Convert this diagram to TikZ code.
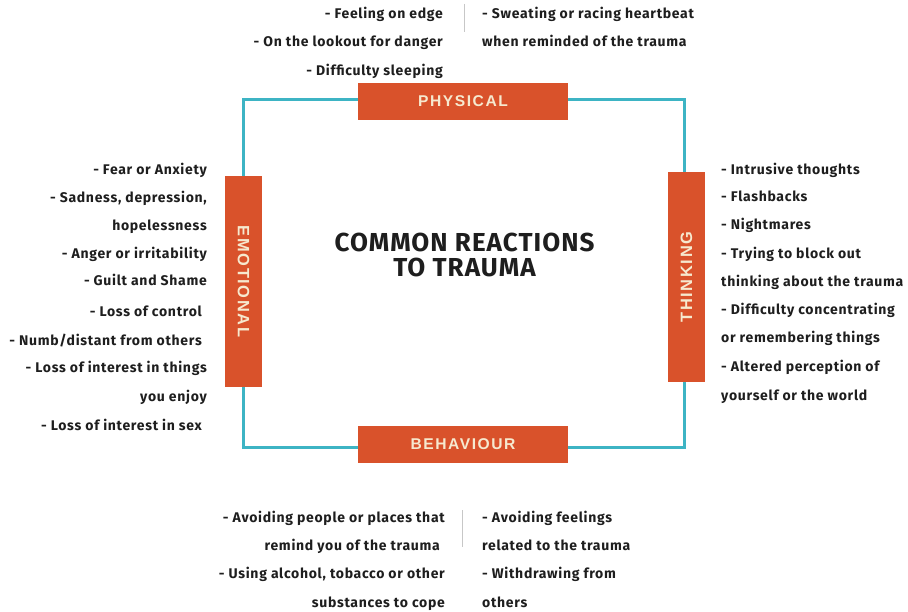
\documentclass[tikz,border=0pt]{standalone}
\usepackage{fontspec}
\setmainfont{Fira Sans}
\newfontfamily\itemfont[LetterSpace=5]{Fira Sans}
\newfontfamily\titlefont[LetterSpace=4]{Fira Sans}
\newfontfamily\labelfont[LetterSpace=10]{Liberation Sans}
\definecolor{orng}{HTML}{D9522B}
\definecolor{teal2}{HTML}{3DB4C4}
\definecolor{cream}{HTML}{F6E9CF}
\definecolor{txt}{HTML}{1E1E1E}
\begin{document}
\begin{tikzpicture}[x=1pt,y=-1pt,
  lbox/.style={fill=orng,draw=none,inner sep=0pt},
  lab/.style={font=\labelfont\bfseries\fontsize{15.6}{15.6}\selectfont,text=cream},
  vlab/.style={font=\labelfont\bfseries\fontsize{16.4}{16.4}\selectfont,text=cream},
  itm/.style={font=\itemfont\bfseries\fontsize{14}{16}\selectfont,text=txt,inner sep=0pt},
  ttl/.style={font=\titlefont\bfseries\fontsize{26}{26}\selectfont,text=txt,inner sep=0pt,anchor=base},
  div/.style={draw=black!22,line width=1pt}]
\useasboundingbox (0,0) rectangle (908,612);
\fill[white] (0,0) rectangle (908,612);
% frame
\coordinate (tl) at (243,100);
\coordinate (tr) at (684,100);
\coordinate (br) at (684,447);
\coordinate (bl) at (243,447);
\draw[teal2,line width=3pt] (tl) -- (tr) -- (br) -- (bl) -- cycle;
% label boxes
\node[lbox,minimum width=210pt,minimum height=37pt] (phys) at (463,101.5) {};
\node[lab] at (phys) {PHYSICAL};
\node[lbox,minimum width=210pt,minimum height=37pt] (beh) at (463,444.5) {};
\node[lab] at (beh) {BEHAVIOUR};
\node[lbox,minimum width=37pt,minimum height=211pt] (emo) at (243.5,281.5) {};
\node[vlab,rotate=-90] at (emo) {EMOTIONAL};
\node[lbox,minimum width=37pt,minimum height=210pt] (thk) at (686.5,277) {};
\node[vlab,rotate=90] at (thk) {THINKING};
% title
\node[ttl] (title1) at (464.5,252) {COMMON REACTIONS};
\node[ttl] (title2) at (464.5,277) {TO TRAUMA};
% dividers
\coordinate (d1a) at (464,4); \coordinate (d1b) at (464,32);
\draw[div] (d1a) -- (d1b);
\coordinate (d2a) at (462,510); \coordinate (d2b) at (462,547);
\draw[div] (d2a) -- (d2b);
% top
\node[itm,anchor=base east] (p1) at (443,19) {- Feeling on edge};
\node[itm,anchor=base east] (p2) at (443,47) {- On the lookout for danger};
\node[itm,anchor=base east] (p3) at (443,76) {- Difficulty sleeping};
\node[itm,anchor=base west] (p4) at (482,19) {- Sweating or racing heartbeat};
\node[itm,anchor=base west] (p5) at (482,47) {when reminded of the trauma};
% left
\node[itm,anchor=base east] (e1) at (207,175) {- Fear or Anxiety};
\node[itm,anchor=base east] (e2) at (207,203) {- Sadness, depression,};
\node[itm,anchor=base east] (e3) at (207,231) {hopelessness};
\node[itm,anchor=base east] (e4) at (207,259) {- Anger or irritability};
\node[itm,anchor=base east] (e5) at (207,286) {- Guilt and Shame};
\node[itm,anchor=base east] (e6) at (202,317) {- Loss of control};
\node[itm,anchor=base east] (e7) at (202,345) {- Numb/distant from others};
\node[itm,anchor=base east] (e8) at (207,373) {- Loss of interest in things};
\node[itm,anchor=base east] (e9) at (207,402) {you enjoy};
\node[itm,anchor=base east] (e10) at (202,430) {- Loss of interest in sex};
% right
\node[itm,anchor=base west] (t1) at (721,175) {- Intrusive thoughts};
\node[itm,anchor=base west] (t2) at (721,202) {- Flashbacks};
\node[itm,anchor=base west] (t3) at (721,230) {- Nightmares};
\node[itm,anchor=base west] (t4) at (721,259) {- Trying to block out};
\node[itm,anchor=base west] (t5) at (721,287) {thinking about the trauma};
\node[itm,anchor=base west] (t6) at (721,315) {- Difficulty concentrating};
\node[itm,anchor=base west] (t7) at (721,343) {or remembering things};
\node[itm,anchor=base west] (t8) at (721,372) {- Altered perception of};
\node[itm,anchor=base west] (t9) at (721,400) {yourself or the world};
% bottom
\node[itm,anchor=base east] (b1) at (445,522) {- Avoiding people or places that};
\node[itm,anchor=base east] (b2) at (440,550) {remind you of the trauma};
\node[itm,anchor=base east] (b3) at (445,578) {- Using alcohol, tobacco or other};
\node[itm,anchor=base east] (b4) at (445,607) {substances to cope};
\node[itm,anchor=base west] (b5) at (482,522) {- Avoiding feelings};
\node[itm,anchor=base west] (b6) at (482,550) {related to the trauma};
\node[itm,anchor=base west] (b7) at (482,578) {- Withdrawing from};
\node[itm,anchor=base west] (b8) at (482,607) {others};
\end{tikzpicture}
\end{document}
